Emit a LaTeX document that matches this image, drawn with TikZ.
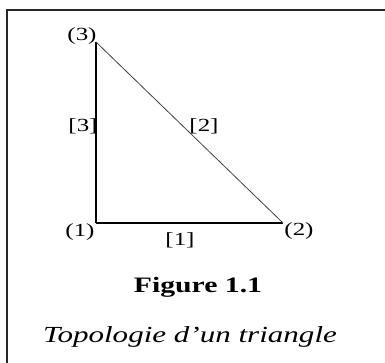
\documentclass[tikz,border=0pt]{standalone}
\usepackage{fontspec}
\setmainfont{Liberation Serif}[FakeStretch=1.35]
\usetikzlibrary{positioning}
\tikzset{
  lbl/.style={font=\fontsize{18.5}{18.5}\selectfont,inner sep=0pt},
  leg/.style={line width=1.5pt,color=black},
  hyp/.style={line width=0.8pt,color=black!75},
  frm/.style={line width=1.2pt,color=black!85},
  capt/.style={anchor=base,inner sep=0pt},
}
\begin{document}
\begin{tikzpicture}[x=1pt,y=-1pt]
  \useasboundingbox (0,0) rectangle (385,363);
  % frame, open on the right and at the bottom
  \coordinate (fBL) at (7,363);
  \coordinate (fTL) at (7,10);
  \coordinate (fTR) at (385,10);
  \draw[frm] (fBL) -- (fTL) -- (fTR);
  % vertices
  \coordinate (v1) at (96,223);
  \coordinate (v2) at (283,223);
  \coordinate (v3) at (96,42);
  % edges
  \draw[leg] (v1) -- (v2);
  \draw[leg] (v1) -- (v3);
  \draw[hyp] (v2) -- (v3);
  % node numbers
  \node[lbl] (n1) at (80,232) {(1)};
  \node[lbl] (n2) at (299,231) {(2)};
  \node[lbl] (n3) at (82,36) {(3)};
  % edge numbers
  \node[lbl] (e1) at (180,240) {[1]};
  \node[lbl] (e2) at (204,126) {[2]};
  \node[lbl] (e3) at (83,126) {[3]};
  % caption
  \node[capt,font=\bfseries\fontsize{22}{22}\selectfont] (fig) at (198,292) {Figure 1.1};
  \node[capt,font=\itshape\fontsize{23}{23}\selectfont] (title) at (190,342) {Topologie d'un triangle};
\end{tikzpicture}
\end{document}
